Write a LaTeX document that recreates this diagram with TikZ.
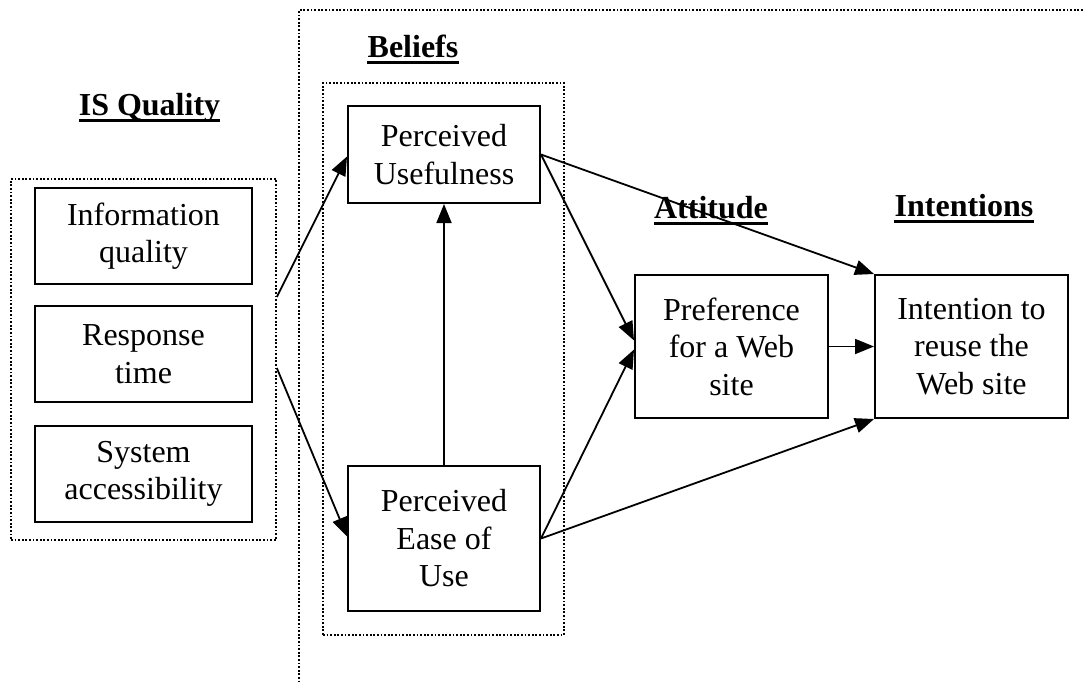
\documentclass[tikz,border=0pt]{standalone}
\usepackage{fontspec}
\setmainfont{Liberation Serif}
\usetikzlibrary{arrows.meta,calc}
\begin{document}
\begin{tikzpicture}[x=1pt,y=-1pt,
  box/.style={draw,line width=2pt,align=center,inner sep=0pt,
    font=\fontsize{32}{37.5}\selectfont},
  dotframe/.style={draw,line width=1.6pt,dash pattern=on 1.8pt off 1.8pt},
  title/.style={anchor=base,inner sep=0pt,font=\fontsize{32}{37.5}\selectfont\bfseries},
  uline/.style={line width=3pt},
  arr/.style={line width=1.8pt,-{Triangle[length=19pt,width=15pt]}}]
\useasboundingbox (0,0) rectangle (1084,681);
% large frame
\coordinate (fr1) at (1090,10);
\coordinate (fr2) at (299,10);
\coordinate (fr3) at (299,690);
\draw[dotframe] (fr1) -- (fr2) -- (fr3);
% group frames
\node[dotframe,minimum width=265pt,minimum height=361pt] (isq) at (143.5,359.5) {};
\node[dotframe,minimum width=241pt,minimum height=552pt] (bel) at (443.5,359) {};
% boxes
\node[box,minimum width=217pt,minimum height=96pt] (info) at (143.5,236) {Information\\quality};
\node[box,minimum width=217pt,minimum height=96pt] (resp) at (143.5,354) {Response\\time};
\node[box,minimum width=217pt,minimum height=96pt] (sys) at (143.5,474) {System\\accessibility};
\node[box,minimum width=192pt,minimum height=97pt] (pu) at (444,154.5) {Perceived\\Usefulness};
\node[box,minimum width=192pt,minimum height=145pt] (peou) at (444,538.5) {Perceived\\Ease of\\Use};
\node[box,minimum width=193pt,minimum height=143pt] (pref) at (731.5,346.5) {Preference\\for a Web\\site};
\node[box,minimum width=193pt,minimum height=143pt] (int) at (971.5,346.5) {Intention to\\reuse the\\Web site};
% titles
\node[title] (t1) at (149.5,115) {IS Quality};
\node[title] (t2) at (413,57) {Beliefs};
\node[title] (t3) at (711,218) {Attitude};
\node[title] (t4) at (964,216) {Intentions};
\foreach \t in {t1,t2,t3,t4}
  \draw[uline] ([yshift=-5pt]\t.base west) -- ([yshift=-5pt]\t.base east);
% arrows
\draw[arr] ([yshift=62.5pt]isq.east) -- ([yshift=-2pt]pu.west);
\draw[arr] ([yshift=-8.5pt]isq.east) -- ([yshift=2pt]pu.west |- peou.west);
\draw[arr] (peou.north) -- (pu.south);
\draw[arr] (pu.east) -- ([yshift=6pt]pref.west);
\draw[arr] (peou.east) -- ([yshift=-3pt]pref.west);
\draw[arr] (pu.east) -- (int.north west);
\draw[arr] (peou.east) -- (int.south west);
\draw[arr] (pref.east) -- (int.west);
\end{tikzpicture}
\end{document}
